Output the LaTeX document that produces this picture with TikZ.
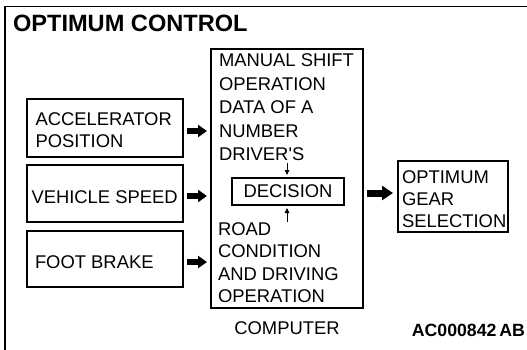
\documentclass[tikz,border=0pt]{standalone}
\usepackage{fontspec}
\setmainfont{Liberation Sans}[Ligatures=TeXOff]
\usetikzlibrary{arrows.meta}
\begin{document}
\begin{tikzpicture}[x=1pt,y=-1pt,
  every node/.style={inner sep=0pt, outer sep=0pt},
  txt/.style={font=\fontsize{18.4}{22}\selectfont, anchor=base west},
  titletxt/.style={font=\fontsize{23.6}{28}\selectfont\bfseries, anchor=base west},
  codetxt/.style={font=\fontsize{17.7}{21}\selectfont\bfseries, anchor=base east},
  inbox/.style={draw, line width=2pt},
  thinbox/.style={draw, line width=1.2pt},
  decbox/.style={draw, line width=1.5pt},
  blockarrow/.style={line width=6pt, -{Triangle[length=9pt,width=12pt]}, shorten <=4pt, shorten >=4pt},
  bigarrow/.style={line width=7pt, -{Triangle[length=11pt,width=14pt]}, shorten <=4pt, shorten >=5pt},
  thinarrow/.style={line width=1pt, -{Triangle[length=5pt,width=4.5pt]}, shorten >=3pt}]
\useasboundingbox (0,0) rectangle (527,349);
% outer frame
\draw[line width=1.8pt] (5,352) -- (5,6.5) -- (530,6.5);
\node[titletxt] (title) at (13,31) {OPTIMUM CONTROL};
% input boxes
\node[inbox, minimum width=156pt, minimum height=58pt] (acc) at (105,128) {};
\node[inbox, minimum width=156pt, minimum height=57pt] (veh) at (105,193.5) {};
\node[inbox, minimum width=156pt, minimum height=56pt] (fb) at (105,259) {};
\node[txt] (acc1) at (35.5,125) {ACCELERATOR};
\node[txt] (acc2) at (35.5,147) {POSITION};
\node[txt] (veht) at (31.5,203.5) {VEHICLE SPEED};
\node[txt] (fbt) at (35,268.5) {FOOT BRAKE};
% computer
\node[thinbox, minimum width=152pt, minimum height=259pt] (comp) at (287,178.5) {};
\node[txt] (m1) at (219,66.7) {MANUAL SHIFT};
\node[txt] (m2) at (219,90) {OPERATION};
\node[txt] (m3) at (219,113.5) {DATA OF A};
\node[txt] (m4) at (219,137) {NUMBER};
\node[txt] (m5) at (219,160) {DRIVER'S};
\node[decbox, minimum width=112pt, minimum height=27pt, font=\fontsize{18.4}{22}\selectfont] (dec) at (288,191.5) {DECISION};
\node[txt] (r1) at (218,235) {ROAD};
\node[txt] (r2) at (218,257.5) {CONDITION};
\node[txt] (r3) at (218,280) {AND DRIVING};
\node[txt] (r4) at (218,302) {OPERATION};
\node[txt, anchor=base] (comptxt) at (287,334.6) {COMPUTER};
% output
\node[thinbox, minimum width=110pt, minimum height=71pt] (opt) at (453,196.5) {};
\node[txt] (o1) at (402,183) {OPTIMUM};
\node[txt] (o2) at (402,205) {GEAR};
\node[txt] (o3) at (402,227) {SELECTION};
\node[codetxt] (code) at (525,336.5) {AC000842\,AB};
% connectors
\draw[blockarrow] (acc.east |- 0,131) -- (comp.west |- 0,131);
\draw[blockarrow] (veh.east |- 0,196) -- (comp.west |- 0,196);
\draw[blockarrow] (fb.east |- 0,262) -- (comp.west |- 0,262);
\draw[bigarrow] (comp.east |- 0,193) -- (opt.west |- 0,193);
\coordinate (dtop) at (287,163);
\coordinate (dbot) at (287,222);
\draw[thinarrow] (dtop) -- (dtop |- dec.north);
\draw[thinarrow] (dbot) -- (dbot |- dec.south);
\end{tikzpicture}
\end{document}
